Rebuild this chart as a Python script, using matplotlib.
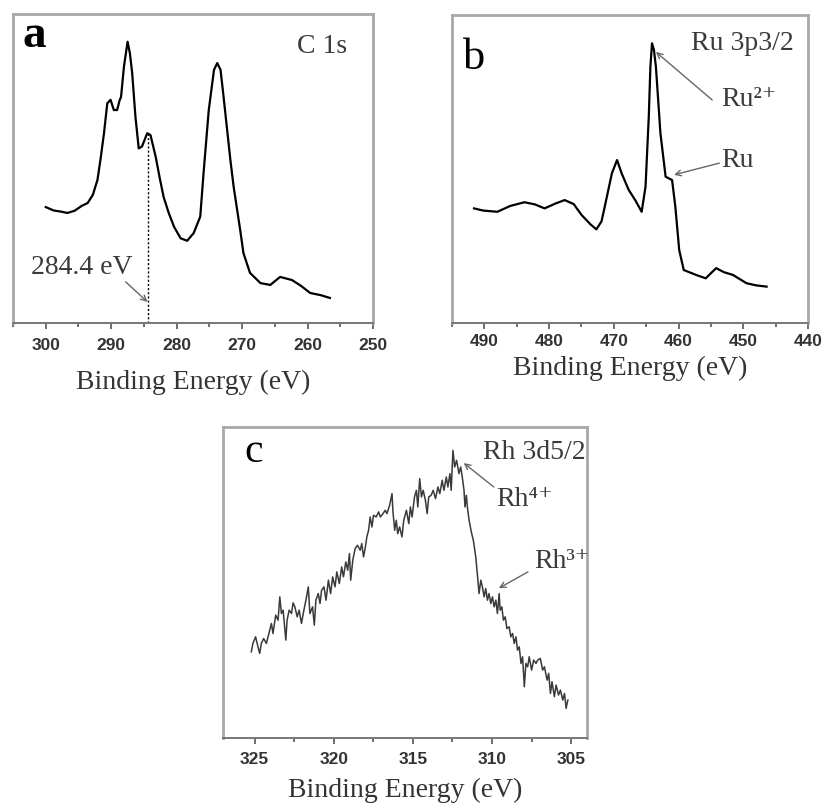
import matplotlib
matplotlib.use("Agg")
import matplotlib.pyplot as plt
from matplotlib.ticker import MultipleLocator

plt.rcParams['font.family'] = ['Liberation Serif', 'DejaVu Serif']

# --- panel a : C 1s ---
energy_c1s = [300.0, 298.8, 297.6, 296.7, 295.6, 294.5, 293.6, 292.8, 292.1, 291.6, 291.1,
              290.6, 290.1, 289.6, 289.1, 288.7, 288.5, 288.06, 287.5, 287.15, 286.8,
              286.3, 285.8, 285.3, 284.5, 284.0, 283.2, 282.6, 282.0, 281.2, 280.4,
              279.4, 278.4, 277.4, 276.4, 275.9, 275.1, 274.3, 273.8, 273.3, 272.9,
              271.8, 271.3, 270.3, 269.8, 268.8, 267.2, 265.7, 264.2, 262.4, 261.0,
              259.6, 258.0, 256.6]
counts_c1s = [37.5, 36.4, 36.0, 35.6, 36.3, 37.9, 38.8, 41.5, 46.3, 53.5, 61.5,
              71.1, 72.2, 68.9, 68.9, 72.2, 73.1, 82.9, 91.0, 87.3, 80.9,
              66.7, 56.5, 57.1, 61.4, 60.8, 53.7, 47.0, 40.8, 35.5, 31.1,
              27.4, 26.6, 29.1, 34.4, 48.4, 68.9, 81.9, 84.1, 81.9, 74.4,
              52.8, 44.1, 30.1, 22.6, 16.2, 12.9, 12.3, 14.9, 13.9, 12.0,
              9.7, 9.0, 8.1]

# --- panel b : Ru 3p3/2 ---
energy_ru = [491.6, 490.2, 488.0, 486.0, 483.8, 482.2, 480.7, 479.0, 477.6, 476.2, 475.0,
             473.6, 472.7, 471.9, 471.4, 470.3, 469.5, 468.8, 467.7, 466.7, 465.7,
             465.1, 464.6, 464.35, 464.1, 463.8, 463.5, 462.8, 462.0, 461.0, 460.5,
             459.9, 459.2, 457.3, 455.8, 454.2, 453.0, 451.6, 449.5, 448.0, 446.4]
counts_ru = [37.2, 36.5, 36.1, 38.0, 39.2, 38.5, 37.2, 38.8, 39.9, 38.6, 35.1,
             32.0, 30.4, 33.0, 37.8, 48.6, 52.9, 48.6, 43.2, 39.9, 36.1,
             44.3, 67.0, 83.2, 90.8, 88.6, 83.2, 61.6, 47.5, 46.4, 37.8,
             23.7, 17.2, 15.6, 14.5, 17.8, 16.5, 15.6, 12.9, 12.2, 11.8]

# --- panel c : Rh 3d5/2 ---
energy_rh = [325.21, 325.11, 324.94, 324.79, 324.68, 324.58, 324.43, 324.26, 324.05, 323.94,
             323.84, 323.67, 323.52, 323.41, 323.31, 323.20, 323.03, 322.95, 322.82, 322.67,
             322.57, 322.46, 322.31, 322.19, 322.04, 321.93, 321.76, 321.61, 321.51, 321.34,
             321.23, 321.13, 320.98, 320.87, 320.77, 320.62, 320.49, 320.34, 320.20, 320.07,
             319.92, 319.81, 319.65, 319.50, 319.39, 319.24, 319.12, 319.01, 318.93, 318.80,
             318.65, 318.50, 318.33, 318.23, 318.12, 318.02, 317.91, 317.80, 317.70, 317.59,
             317.49, 317.32, 317.17, 317.06, 316.89, 316.75, 316.64, 316.47, 316.32, 316.26,
             316.15, 316.05, 315.96, 315.84, 315.69, 315.58, 315.41, 315.26, 315.16, 315.05,
             314.90, 314.78, 314.69, 314.57, 314.46, 314.35, 314.21, 314.10, 314.00, 313.85,
             313.72, 313.57, 313.42, 313.30, 313.15, 313.04, 312.89, 312.79, 312.66, 312.58,
             312.47, 312.36, 312.24, 312.09, 311.98, 311.88, 311.77, 311.71, 311.62, 311.56,
             311.45, 311.31, 311.18, 311.03, 310.93, 310.82, 310.71, 310.61, 310.50, 310.40,
             310.29, 310.19, 310.08, 309.97, 309.87, 309.76, 309.66, 309.55, 309.49, 309.38,
             309.28, 309.17, 309.06, 308.92, 308.81, 308.70, 308.60, 308.49, 308.39, 308.28,
             308.17, 308.07, 307.96, 307.86, 307.75, 307.65, 307.50, 307.37, 307.22, 307.12,
             306.95, 306.80, 306.69, 306.52, 306.42, 306.31, 306.21, 306.06, 305.95, 305.80,
             305.68, 305.53, 305.42, 305.32, 305.21]
counts_rh = [25.9, 28.4, 30.4, 27.4, 25.4, 28.4, 29.9, 28.4, 32.4, 34.4,
             31.4, 36.9, 35.4, 42.4, 37.4, 38.4, 29.4, 35.4, 38.4, 37.4,
             40.6, 39.4, 36.4, 38.4, 34.4, 37.4, 41.4, 45.4, 37.4, 39.4,
             33.9, 41.4, 43.4, 40.4, 44.4, 45.4, 41.4, 47.4, 43.4, 48.4,
             45.4, 49.9, 46.4, 51.4, 48.4, 52.9, 50.4, 55.4, 47.4, 53.4,
             56.9, 57.9, 56.4, 58.4, 54.4, 56.9, 60.4, 62.4, 66.4, 63.4,
             66.9, 66.4, 67.9, 66.4, 67.4, 68.4, 67.4, 69.9, 73.4, 67.9,
             62.4, 65.4, 61.4, 63.4, 60.4, 65.4, 68.4, 64.4, 69.4, 66.4,
             72.4, 74.4, 69.4, 77.9, 72.4, 74.4, 71.4, 67.4, 72.4, 72.9,
             74.4, 71.9, 75.4, 73.4, 77.4, 74.4, 78.4, 75.4, 79.4, 74.4,
             86.4, 81.4, 83.4, 79.4, 81.4, 78.4, 74.4, 69.4, 72.9, 69.4,
             65.4, 61.9, 59.4, 54.4, 49.4, 43.4, 47.4, 45.4, 42.4, 44.9,
             41.4, 43.4, 40.4, 42.4, 39.4, 41.4, 37.4, 43.4, 38.4, 39.4,
             35.4, 36.4, 32.9, 33.4, 30.4, 31.4, 28.4, 30.4, 26.4, 27.4,
             22.4, 24.4, 15.4, 22.4, 21.4, 24.4, 20.4, 23.4, 22.4, 23.4,
             23.9, 20.4, 21.4, 17.4, 19.4, 13.4, 16.9, 12.4, 15.9, 12.9,
             14.4, 11.4, 13.4, 8.9, 11.4]

TICK_FONT = dict(family='Liberation Sans', weight='bold', size=12.5, color='#333333')
ARROW = dict(arrowstyle='->', color='#666666', lw=1.0, shrinkA=0, shrinkB=0)
TXT = dict(fontsize=20, color='#3a3a3a', va='center')


def style_axes(ax, xlim, major, minor, labelpad=5, tickpad=4):
    ax.set_xlim(*xlim)
    ax.set_yticks([])
    for side in ('left', 'right', 'top'):
        ax.spines[side].set_color('#a8a8a8')
        ax.spines[side].set_linewidth(2.0)
    ax.spines['bottom'].set_color('#777777')
    ax.spines['bottom'].set_linewidth(1.4)
    ax.xaxis.set_major_locator(MultipleLocator(major))
    ax.xaxis.set_minor_locator(MultipleLocator(minor))
    ax.tick_params(axis='x', which='major', direction='out', length=4, width=1.2, color='#555555', pad=tickpad)
    ax.tick_params(axis='x', which='minor', direction='out', length=3, width=1.2, color='#555555')
    for lab in ax.get_xticklabels():
        lab.set(**TICK_FONT)
    ax.set_xlabel('Binding Energy (eV)', fontsize=20, color='#333333', labelpad=labelpad)


fig = plt.figure(figsize=(8.25, 8.05), dpi=100)

# panel a
ax_a = fig.add_axes([0.0158, 0.5988, 0.4364, 0.3839])
ax_a.plot(energy_c1s, counts_c1s, color='black', lw=1.6)
ax_a.set_ylim(0, 100)
ax_a.plot([284.4, 284.4], [0, 61.2], color='black', lw=1.0, ls=(0, (1.5, 1.5)))
style_axes(ax_a, (305, 250), 10, 5, labelpad=12, tickpad=7)
ax_a.text(0.025, 0.93, 'a', transform=ax_a.transAxes, fontsize=34, fontweight='bold', va='center')
ax_a.text(261.6, 89.3, 'C 1s', **TXT)
ax_a.text(302.3, 18.1, '284.4 eV', **TXT)
ax_a.annotate('', xy=(284.45, 6.8), xytext=(287.8, 13.3), arrowprops=ARROW)

# panel b
ax_b = fig.add_axes([0.5479, 0.5988, 0.4315, 0.3826])
ax_b.plot(energy_ru, counts_ru, color='black', lw=1.6)
ax_b.set_ylim(0, 100)
style_axes(ax_b, (495, 440), 10, 5, labelpad=5)
ax_b.text(0.03, 0.86, 'b', transform=ax_b.transAxes, fontsize=32, va='center')
ax_b.text(458.1, 90.9, 'Ru 3p3/2', **TXT)
ax_b.text(453.4, 72.4, 'Ru²⁺', **TXT)
ax_b.annotate('', xy=(463.5, 88.0), xytext=(454.8, 72.4), arrowprops=ARROW)
ax_b.text(453.4, 52.9, 'Ru', **TXT)
ax_b.annotate('', xy=(460.7, 48.1), xytext=(453.7, 51.9), arrowprops=ARROW)

# panel c
ax_c = fig.add_axes([0.2703, 0.0832, 0.4412, 0.3863])
ax_c.plot(energy_rh, counts_rh, color='#3a3a3a', lw=1.1)
ax_c.set_ylim(0, 93.4)
style_axes(ax_c, (327, 304), 5, 2.5, labelpad=8, tickpad=6)
ax_c.text(0.06, 0.92, 'c', transform=ax_c.transAxes, fontsize=30, va='center')
ax_c.text(310.6, 85.9, 'Rh 3d5/2', clip_on=False, **TXT)
ax_c.text(309.76, 71.5, 'Rh⁴⁺', **TXT)
ax_c.annotate('', xy=(311.79, 82.6), xytext=(309.89, 75.4), arrowprops=ARROW)
ax_c.text(307.35, 52.9, 'Rh³⁺', **TXT)
ax_c.annotate('', xy=(309.57, 45.0), xytext=(307.73, 49.9), arrowprops=ARROW)

fig.savefig('out.png', dpi=100, facecolor='white')
